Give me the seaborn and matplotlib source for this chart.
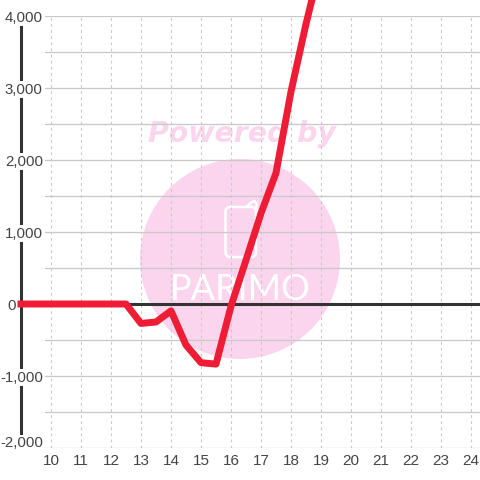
# plot.py
# Line chart with a faint Parimo watermark behind the grid
import matplotlib
matplotlib.use("Agg")
import matplotlib.pyplot as plt
from matplotlib.lines import Line2D
from matplotlib.patches import Circle, FancyBboxPatch
from matplotlib.transforms import Affine2D, IdentityTransform
import seaborn as sns

hours = [9, 9.5, 10, 10.5, 11, 11.5, 12, 12.5, 13, 13.5, 14, 14.5, 15, 15.5,
         16, 16.5, 17, 17.5, 18, 18.5, 19]
values = [0, 0, 0, 0, 0, 0, 0, 0, -270, -250, -95, -570, -815, -835,
          -30, 610, 1260, 1820, 2950, 3890, 4740]
x_ticks = list(range(10, 25))
y_ticks = [4000, 3000, 2000, 1000, 0, -1000, -2000]
y_minor = [3500, 2500, 1500, 500, -500, -1500]
y_labels = ["4,000", "3,000", "2,000", "1,000", "0", "-1,000", "-2,000"]

RED = "#EE1C34"
DARK = "#333333"
GRID = "#C9C9C9"
PINK = "#FBD5EE"
TEXT = "#444444"

sns.set_theme(style="white")
plt.rcParams["font.family"] = ["Liberation Sans", "DejaVu Sans"]

W = H = 480
fig = plt.figure(figsize=(4.8, 4.8), dpi=100, facecolor="white")
ax = fig.add_axes([45 / W, (H - 448) / H, 435 / W, 432 / H])
ax.patch.set_visible(False)


# watermark sits under the axes, so the grid runs over it
def py(y):
    return H - y


px = IdentityTransform()
fig.add_artist(Circle((240, py(259)), 100, transform=px, fc=PINK, ec="none", zorder=-2))
fig.add_artist(FancyBboxPatch((225.5, py(257)), 30.5, 50, boxstyle="round,pad=0,rounding_size=5",
                              transform=px, fc="none", ec="white", lw=1.8, zorder=-1))
fig.add_artist(Line2D([246, 251, 254, 256.5, 256.5],
                      [py(207), py(203), py(201), py(203), py(212)],
                      transform=px, color="white", lw=1.8, zorder=-1))
fig.text(242 / W, py(134) / H, "Powered by", color=PINK, fontsize=20.4, family="DejaVu Sans",
         weight="bold", style="italic", ha="center", va="center", zorder=-1)
fig.text(240 / W, py(289) / H, "PARIMO", color="white", fontsize=26,
         family=["Lato", "Liberation Sans"],
         ha="center", va="center", zorder=-1)

sns.lineplot(x=hours, y=values, ax=ax, color=RED, linewidth=5, errorbar=None, zorder=5)
red_line = ax.lines[-1]
red_line.set_clip_on(False)
red_line.set_solid_capstyle("projecting")
red_line.set_solid_joinstyle("round")

ax.set_xlim(9.8, 24.3)
ax.set_ylim(-2000, 4000)

ax.set_xticks(x_ticks)
ax.set_yticks(y_ticks)
ax.set_yticklabels(y_labels)
ax.set_yticks(y_minor, minor=True)

ax.grid(True, axis="x", color=GRID, lw=0.8, ls=(0, (2.5, 3)))
ax.grid(True, axis="y", which="both", color=GRID, lw=0.95)
for g in ax.get_ygridlines():
    g.set_clip_on(False)
ax.axhline(0, xmin=-25 / 435, color=DARK, lw=2.2, clip_on=False, zorder=3)

for side in ["top", "right", "bottom"]:
    ax.spines[side].set_visible(False)
ax.spines["left"].set_position(("outward", 17.6))
ax.spines["left"].set_linewidth(2.2)
ax.spines["left"].set_color(DARK)
ax.spines["left"].set_zorder(0.4)

ax.tick_params(axis="x", length=0, pad=4.5, labelsize=11, labelcolor=TEXT)
ax.tick_params(axis="y", which="both", length=0, pad=-16, labelsize=10.8, labelcolor=TEXT)

# white boxes cut the gaps out of the axis line; 0 and -2,000 are nudged off their ticks
for lab, text in zip(ax.get_yticklabels(), y_labels):
    lab.set_bbox(dict(facecolor="white", edgecolor="none", pad=1.0))
    if text == "0":
        lab.set_transform(lab.get_transform() + Affine2D().translate(-27, 0))
        lab.set_bbox(None)
    if text == "-2,000":
        lab.set_transform(lab.get_transform() + Affine2D().translate(0, 6.5))

fig.savefig("out.png", dpi=100)
